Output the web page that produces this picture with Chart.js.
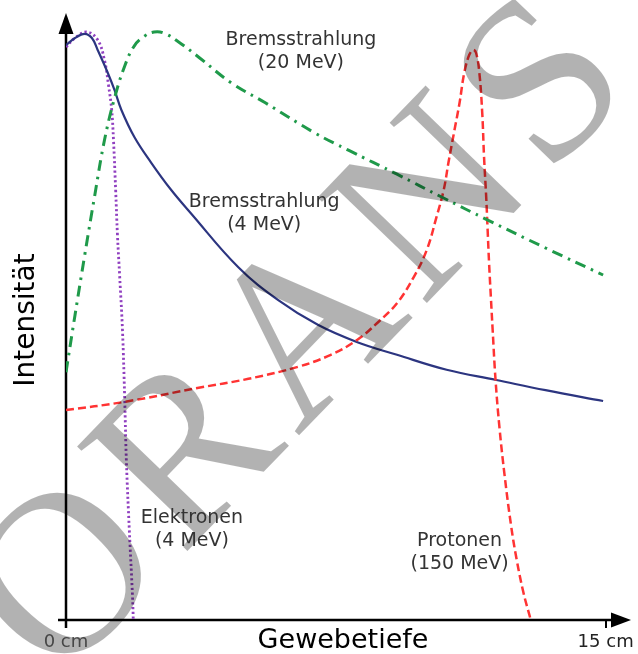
<!DOCTYPE html>
<html>
<head>
<meta charset="utf-8">
<script src="https://cdn.jsdelivr.net/npm/chart.js@4.4.0/dist/chart.umd.min.js"></script>
<style>
body { margin: 0; background: #fff; }
</style>
</head>
<body>
<canvas id="chart1" width="638" height="654"></canvas>
<script>
// depth (cm) and relative intensity (%)
const brems4Depth = [0, 0.25, 0.52, 0.72, 0.88, 1.16, 1.35, 1.54, 1.90, 2.37, 2.92, 3.47, 4.79, 5.90, 7.00, 8.10, 9.20, 10.58, 11.96, 13.33, 14.93];
const brems4Value = [95.8, 97, 97.7, 97, 95, 91.2, 88.3, 85, 80.5, 76.2, 71.7, 67.8, 58.8, 53.3, 49.2, 46.3, 44.2, 41.7, 40, 38.3, 36.5];

const elecDepth = [0, 0.25, 0.58, 0.88, 1.07, 1.18, 1.27, 1.32, 1.38, 1.43, 1.49, 1.57, 1.63, 1.68, 1.76, 1.85, 1.87];
const elecValue = [95.5, 97, 98, 96.7, 93.3, 89.2, 85, 80, 71.7, 64.2, 57.5, 48.3, 37.2, 26.2, 15, 3.8, 0];

const brems20Depth = [0, 0.25, 0.52, 0.80, 1.07, 1.35, 1.63, 1.90, 2.18, 2.45, 2.73, 3.14, 3.69, 4.60, 5.54, 6.91, 7.85, 9.20, 10.44, 11.71, 13.33, 14.93];
const brems20Value = [41.3, 50.8, 60.8, 70.8, 80, 87, 92.3, 95.7, 97.3, 98, 97.8, 96.3, 93.8, 89.5, 86.2, 81.2, 78.3, 74.3, 70.5, 66.7, 62, 57.5];

const protonDepth = [0, 1.57, 3.69, 5.07, 6.45, 7.36, 8.10, 8.65, 9.20, 9.67, 10.03, 10.30, 10.50, 10.63, 10.80, 10.94, 11.07, 11.21, 11.32, 11.40, 11.49, 11.57, 11.62, 11.68, 11.72, 11.76, 11.81, 11.86, 11.94, 12.05, 12.19, 12.37, 12.52, 12.71, 12.92];
const protonValue = [35, 36.3, 38.7, 40.2, 42.2, 44.2, 46.7, 49.5, 52.8, 57.2, 61.7, 67.2, 71.7, 76.2, 81.7, 86.2, 91.2, 94.2, 95, 94.5, 91.2, 84.5, 77.2, 70.5, 65, 59.5, 53.8, 48.3, 40, 32, 24.2, 15.8, 10.3, 4.7, 0];

const tickValues = [0, 15];
const tickLabels = ['0 cm', '15 cm'];

// curve captions, placed in data coordinates
const captions = [
    {lines: ['Bremsstrahlung', '(20 MeV)'], x: 6.53, y: 94.8},
    {lines: ['Bremsstrahlung', '(4 MeV)'], x: 5.51, y: 67.7},
    {lines: ['Elektronen', '(4 MeV)'], x: 3.5, y: 15},
    {lines: ['Protonen', '(150 MeV)'], x: 10.94, y: 11.2}
];

function toPoints(xs, ys) {
    return xs.map((x, i) => ({x: x, y: ys[i]}));
}

Chart.defaults.font.family = '"DejaVu Sans", sans-serif';

const decor = {
    id: 'decor',
    beforeDatasetsDraw(chart) {
        const c = chart.ctx;
        const xs = chart.scales.x, ys = chart.scales.y;
        const ax = xs.left, ay = ys.bottom;
        c.save();
        c.strokeStyle = '#000';
        c.fillStyle = '#000';
        c.lineWidth = 2.5;
        // y axis + arrow
        c.beginPath();
        c.moveTo(ax, ay + 8);
        c.lineTo(ax, ys.top + 12);
        c.stroke();
        c.beginPath();
        c.moveTo(ax, ys.top - 7);
        c.lineTo(ax - 7.5, ys.top + 14);
        c.lineTo(ax + 7.5, ys.top + 14);
        c.closePath();
        c.fill();
        // x axis + arrow
        c.beginPath();
        c.moveTo(ax - 8, ay);
        c.lineTo(xs.right - 6, ay);
        c.stroke();
        c.beginPath();
        c.moveTo(xs.right + 11, ay);
        c.lineTo(xs.right - 9, ay - 7.5);
        c.lineTo(xs.right - 9, ay + 7.5);
        c.closePath();
        c.fill();
        c.restore();
    },
    afterDatasetsDraw(chart) {
        const c = chart.ctx;
        // watermark
        c.save();
        c.translate(57, 686);
        c.rotate(-46 * Math.PI / 180);
        c.font = '232px "Liberation Serif", "DejaVu Serif", serif';
        c.letterSpacing = '12px';
        c.fillStyle = 'rgba(0,0,0,0.3)';
        c.textBaseline = 'alphabetic';
        c.fillText('ORANS', 0, 0);
        c.restore();
        // captions
        c.save();
        c.font = '19px "DejaVu Sans"';
        c.fillStyle = '#333';
        c.textAlign = 'center';
        c.textBaseline = 'middle';
        captions.forEach(cap => {
            const px = chart.scales.x.getPixelForValue(cap.x);
            const py = chart.scales.y.getPixelForValue(cap.y);
            cap.lines.forEach((t, i) => {
                c.fillText(t, px, py + (i - (cap.lines.length - 1) / 2) * 23);
            });
        });
        c.restore();
    }
};

const ctx1 = document.getElementById('chart1').getContext('2d');
const chart1 = new Chart(ctx1, {
    type: 'scatter',
    data: {
        datasets: [{
            label: 'Bremsstrahlung (20 MeV)',
            data: toPoints(brems20Depth, brems20Value),
            showLine: true,
            borderColor: '#1f9a4a',
            borderWidth: 3,
            borderDash: [11, 6, 2.5, 6],
            pointRadius: 0,
            tension: 0.4
        },
        {
            label: 'Protonen (150 MeV)',
            data: toPoints(protonDepth, protonValue),
            showLine: true,
            borderColor: '#ff3333',
            borderWidth: 2.5,
            borderDash: [8, 4],
            pointRadius: 0,
            tension: 0.4
        },
        {
            label: 'Bremsstrahlung (4 MeV)',
            data: toPoints(brems4Depth, brems4Value),
            showLine: true,
            borderColor: '#2c3580',
            borderWidth: 2.2,
            pointRadius: 0,
            tension: 0.4
        },
        {
            label: 'Elektronen (4 MeV)',
            data: toPoints(elecDepth, elecValue),
            showLine: true,
            borderColor: '#9040c0',
            borderWidth: 2.8,
            borderDash: [2.2, 2.6],
            pointRadius: 0,
            tension: 0.4
        }]
    },
    options: {
        responsive: false,
        animation: false,
        layout: {
            padding: {top: 20, right: 13, left: 0, bottom: 0}
        },
        plugins: {
            legend: {display: false},
            tooltip: {enabled: false}
        },
        scales: {
            x: {
                type: 'linear',
                min: 0,
                max: 15.4,
                afterBuildTicks: s => { s.ticks = tickValues.map(v => ({value: v})); },
                afterFit: s => { s.height = 34; },
                ticks: {
                    autoSkip: false,
                    maxRotation: 0,
                    padding: 4,
                    font: {size: 18},
                    color: c => c.index === 0 ? '#666' : '#222',
                    callback: (v, i) => tickLabels[i]
                },
                grid: {
                    display: true,
                    drawOnChartArea: false,
                    drawTicks: true,
                    tickLength: 8,
                    color: '#000',
                    lineWidth: 2
                },
                border: {display: false},
                title: {
                    display: true,
                    text: 'Gewebetiefe',
                    color: '#000',
                    font: {size: 27, lineHeight: 1},
                    padding: {top: 0, bottom: 0}
                }
            },
            y: {
                min: 0,
                max: 100,
                afterFit: s => { s.width = 66; },
                ticks: {display: false},
                grid: {display: false},
                border: {display: false},
                title: {
                    display: true,
                    text: 'Intensität',
                    color: '#000',
                    font: {size: 28},
                    padding: {top: 10, bottom: 0}
                }
            }
        }
    },
    plugins: [decor]
});
</script>
</body>
</html>
